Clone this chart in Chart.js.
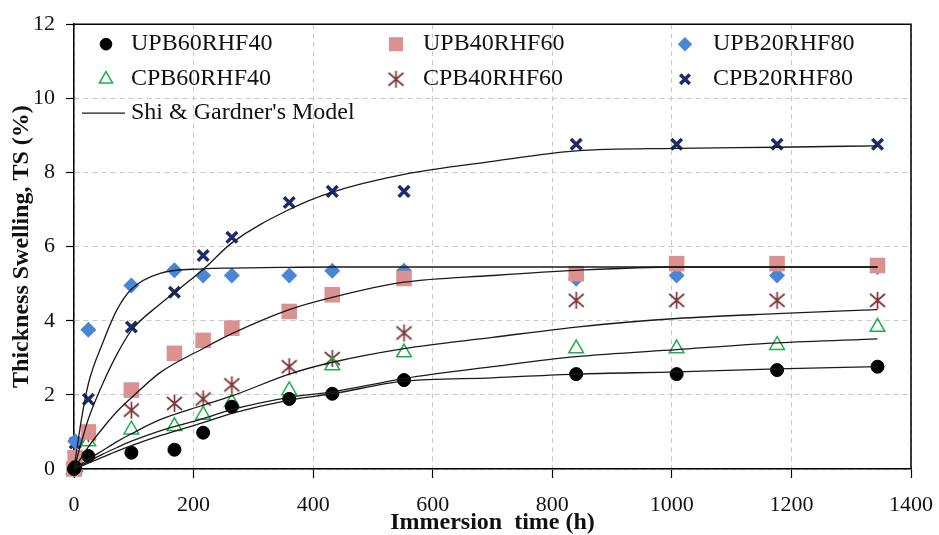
<!DOCTYPE html>
<html>
<head>
<meta charset="utf-8">
<title>Thickness swelling vs immersion time</title>
<script src="https://cdn.jsdelivr.net/npm/chart.js@4.4.1/dist/chart.umd.min.js"></script>
<style>
    html, body { margin: 0; padding: 0; background: #fff; }
    #wrap { width: 939px; height: 535px; }
</style>
</head>
<body>
<div id="wrap"><canvas id="chart" width="939" height="535"></canvas></div>
<script>
// measured points (immersion time in h, TS in %)
const hours = [0, 2, 24, 96, 168, 216, 264, 360, 432, 552, 840, 1008, 1176, 1344];
const upb60 = [0, 0.05, 0.35, 0.44, 0.52, 0.98, 1.68, 1.89, 2.03, 2.40, 2.56, 2.56, 2.67, 2.76];
const upb40 = [0, 0.30, 1.00, 2.13, 3.12, 3.47, 3.80, 4.25, 4.70, 5.14, 5.27, 5.54, 5.54, 5.49];
const upb20 = [0, 0.75, 3.76, 4.95, 5.36, 5.22, 5.22, 5.22, 5.35, 5.35, 5.13, 5.22, 5.22, 5.45];
const cpb60 = [0, 0.05, 0.74, 1.06, 1.15, 1.46, 1.80, 2.12, 2.79, 3.14, 3.25, 3.25, 3.34, 3.83];
const cpb40 = [0, 0.30, 0.95, 1.59, 1.77, 1.89, 2.27, 2.76, 2.98, 3.67, 4.55, 4.55, 4.55, 4.55];
const cpb20 = [0, 0.70, 1.88, 3.83, 4.77, 5.76, 6.25, 7.19, 7.49, 7.49, 8.76, 8.76, 8.76, 8.76];

// Shi & Gardner's model curves
const modelHours = [0, 12, 24, 48, 72, 96, 144, 216, 264, 360, 432, 552, 700, 840, 1008, 1176, 1344];
const modelUpb60 = [0, 0.08, 0.16, 0.32, 0.48, 0.63, 0.90, 1.25, 1.50, 1.86, 2.03, 2.37, 2.46, 2.56, 2.62, 2.70, 2.76];
const modelUpb40 = [0, 0.30, 0.60, 1.10, 1.55, 1.92, 2.60, 3.25, 3.65, 4.30, 4.63, 5.04, 5.22, 5.36, 5.45, 5.45, 5.45];
const modelUpb20 = [0, 1.30, 2.30, 3.40, 4.30, 4.85, 5.28, 5.40, 5.42, 5.44, 5.45, 5.45, 5.45, 5.45, 5.45, 5.45, 5.45];
const modelCpb60 = [0, 0.10, 0.20, 0.40, 0.58, 0.75, 1.03, 1.36, 1.60, 1.93, 2.08, 2.44, 2.76, 3.03, 3.22, 3.40, 3.51];
const modelCpb40 = [0, 0.13, 0.26, 0.50, 0.74, 0.95, 1.33, 1.72, 1.97, 2.56, 2.88, 3.25, 3.55, 3.83, 4.06, 4.19, 4.30];
const modelCpb20 = [0, 0.70, 1.35, 2.30, 3.10, 3.74, 4.45, 5.38, 6.10, 7.00, 7.47, 7.95, 8.30, 8.58, 8.65, 8.68, 8.72];

const MODEL_LABEL = "Shi & Gardner's Model";
const FONT = '"Liberation Serif", "Times New Roman", serif';
const TEXT_COLOR = '#111';

Chart.defaults.font.family = FONT;
Chart.defaults.color = TEXT_COLOR;

function toXY(xs, ys) {
    return xs.map((x, i) => ({ x, y: ys[i] }));
}

// six armed star, like the Excel asterisk marker
function makeAsterisk(color) {
    const c = document.createElement('canvas');
    c.width = 19;
    c.height = 19;
    const g = c.getContext('2d');
    g.strokeStyle = color;
    g.lineWidth = 1.7;
    g.beginPath();
    g.moveTo(9.5, 1); g.lineTo(9.5, 18);
    g.moveTo(2, 3); g.lineTo(17, 16);
    g.moveTo(2, 16); g.lineTo(17, 3);
    g.stroke();
    return c;
}

const asterisk = makeAsterisk('#7e3535');

function markerSet(label, ys, style) {
    return Object.assign({
        label,
        data: toXY(hours, ys),
        showLine: false,
        clip: false,
        order: 1,
    }, style);
}

function modelSet(ys) {
    return {
        label: MODEL_LABEL,
        data: toXY(modelHours, ys),
        showLine: true,
        borderColor: '#1a1a1a',
        borderWidth: 1.3,
        pointRadius: 0,
        cubicInterpolationMode: 'monotone',
        fill: false,
        order: 0,
    };
}

const markers = [
    markerSet('UPB60RHF40', upb60, { pointStyle: 'circle', pointRadius: 6.5, backgroundColor: '#000', borderColor: '#000', borderWidth: 1 }),
    markerSet('UPB40RHF60', upb40, { pointStyle: 'rect', pointRadius: 11, backgroundColor: '#da9190', borderColor: '#da9190', borderWidth: 0 }),
    markerSet('UPB20RHF80', upb20, { pointStyle: 'rectRot', pointRadius: 8, backgroundColor: '#4a86d6', borderColor: '#4a86d6', borderWidth: 0 }),
    markerSet('CPB60RHF40', cpb60, { pointStyle: 'triangle', pointRadius: 8.5, backgroundColor: 'rgba(255,255,255,0)', borderColor: '#1fae4f', borderWidth: 1.5 }),
    markerSet('CPB40RHF60', cpb40, { pointStyle: asterisk, pointRadius: 8, backgroundColor: '#7e3535', borderColor: '#7e3535', borderWidth: 1 }),
    markerSet('CPB20RHF80', cpb20, { pointStyle: 'crossRot', pointRadius: 7.5, backgroundColor: '#1c2b6b', borderColor: '#1c2b6b', borderWidth: 3.5 }),
];

const models = [modelUpb60, modelUpb40, modelUpb20, modelCpb60, modelCpb40, modelCpb20].map(modelSet);

// closes the plot box on top and right
const frame = {
    id: 'frame',
    beforeDatasetsDraw(chart) {
        const { ctx, chartArea: a } = chart;
        ctx.save();
        ctx.strokeStyle = '#000';
        ctx.lineWidth = 1.5;
        ctx.beginPath();
        ctx.moveTo(a.left, a.top);
        ctx.lineTo(a.right, a.top);
        ctx.lineTo(a.right, a.bottom);
        ctx.stroke();
        ctx.restore();
    },
};

// three column legend inside the plot area
const gridLegend = {
    id: 'gridLegend',
    afterDatasetsDraw(chart) {
        const { ctx, chartArea: a } = chart;
        const colMarker = [32, 322, 611];
        const colText = [57, 349, 639];
        const rows = [20, 55, 89];
        ctx.save();
        ctx.font = '24px ' + FONT;
        ctx.textBaseline = 'middle';
        ctx.textAlign = 'left';
        chart.data.datasets.filter(ds => ds.label !== MODEL_LABEL).forEach((ds, i) => {
            const col = i % 3;
            const row = Math.floor(i / 3);
            const x = a.left + colMarker[col];
            const y = a.top + rows[row];
            ctx.fillStyle = ds.backgroundColor;
            ctx.strokeStyle = ds.borderColor;
            ctx.lineWidth = ds.borderWidth;
            Chart.helpers.drawPoint(ctx, {
                pointStyle: ds.pointStyle,
                radius: ds.pointRadius * 0.9,
                borderWidth: ds.borderWidth,
                rotation: 0,
            }, x, y);
            ctx.fillStyle = TEXT_COLOR;
            ctx.fillText(ds.label, a.left + colText[col], y);
        });
        const ly = a.top + rows[2];
        ctx.strokeStyle = '#1a1a1a';
        ctx.lineWidth = 1.3;
        ctx.beginPath();
        ctx.moveTo(a.left + 8, ly);
        ctx.lineTo(a.left + 51, ly);
        ctx.stroke();
        ctx.fillStyle = TEXT_COLOR;
        ctx.fillText(MODEL_LABEL, a.left + colText[0], ly);
        ctx.restore();
    },
};

new Chart(document.getElementById('chart'), {
    type: 'scatter',
    data: { datasets: [...markers, ...models] },
    options: {
        responsive: false,
        animation: false,
        devicePixelRatio: 1,
        layout: { padding: { top: 23, right: 28, left: 0, bottom: 0 } },
        plugins: {
            legend: { display: false },
            tooltip: { enabled: false },
        },
        scales: {
            x: {
                type: 'linear',
                min: 0,
                max: 1400,
                afterFit(scale) {
                    scale.height = 66;
                    // the "1400" label may hang into the page margin
                    scale.paddingRight = 0;
                },
                ticks: {
                    stepSize: 200,
                    padding: 14,
                    color: TEXT_COLOR,
                    font: { size: 22 },
                    callback: v => String(v),
                },
                grid: { color: '#c8c8c8', tickColor: '#000', tickLength: 9, tickWidth: 1.2 },
                border: { color: '#000', width: 1.5, dash: [5, 4] },
                title: {
                    display: true,
                    text: 'Immersion  time (h)',
                    color: TEXT_COLOR,
                    font: { size: 24, weight: 'bold', lineHeight: 1 },
                    padding: { top: 0, bottom: 0 },
                },
            },
            y: {
                min: 0,
                max: 12,
                afterFit(scale) { scale.width = 74; },
                ticks: { stepSize: 2, padding: 11, color: TEXT_COLOR, font: { size: 22 } },
                grid: { color: '#c8c8c8', tickColor: '#000', tickLength: 8, tickWidth: 1.2 },
                border: { color: '#000', width: 1.5, dash: [5, 4] },
                title: {
                    display: true,
                    text: 'Thickness Swelling, TS (%)',
                    color: TEXT_COLOR,
                    font: { size: 24, weight: 'bold', lineHeight: 1 },
                    padding: { top: 10, bottom: 0 },
                },
            },
        },
    },
    plugins: [frame, gridLegend],
});
</script>
</body>
</html>
